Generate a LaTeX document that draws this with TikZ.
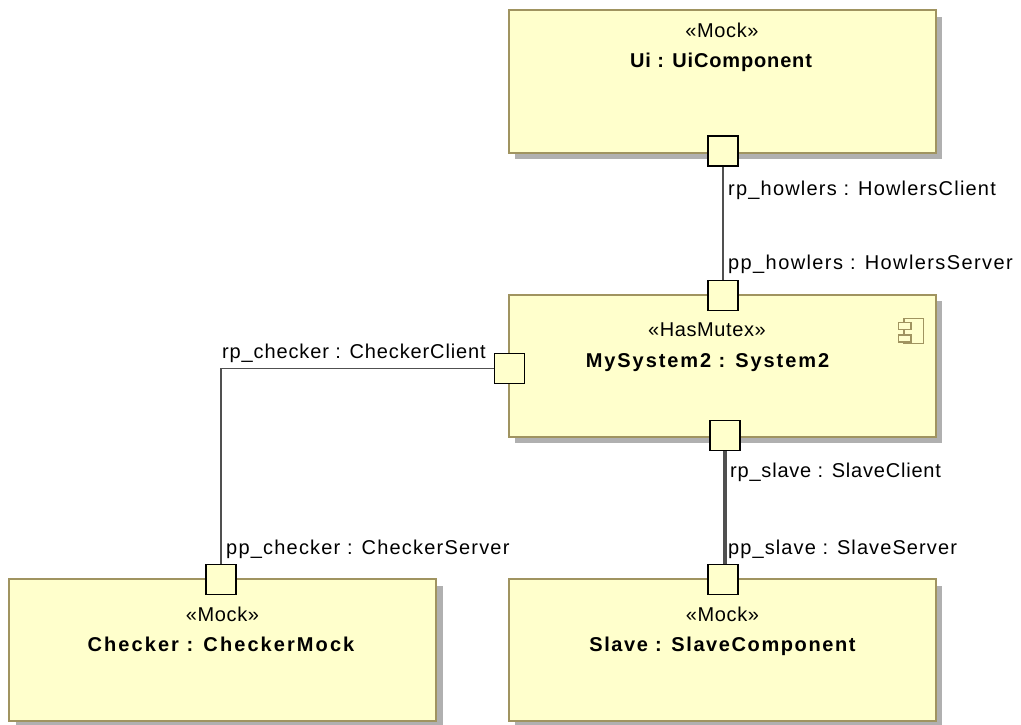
\documentclass[tikz,border=0pt]{standalone}
\usepackage{fontspec}
\setmainfont{Liberation Sans}
\usetikzlibrary{shadows}
\definecolor{boxfill}{RGB}{255,255,204}
\definecolor{boxline}{RGB}{160,148,96}
\definecolor{shade}{RGB}{176,176,176}
\definecolor{wire}{RGB}{80,80,80}
\tikzset{
  x=1pt,y=-1pt,
  part/.style={draw=boxline,line width=2pt,fill=boxfill,minimum width=427pt,minimum height=142pt,inner sep=0pt,anchor=north west,
    general shadow={fill=shade,shadow xshift=6.5pt,shadow yshift=-6.5pt}},
  port/.style={draw=black,line width=1.8pt,fill=boxfill,minimum size=30pt,inner sep=0pt,anchor=center},
  wirethin/.style={draw=wire,line width=1.7pt},
  wirethick/.style={draw=wire,line width=3.2pt},
  stereo/.style={font=\fontsize{20pt}{22pt}\selectfont\addfontfeature{LetterSpace=3},inner sep=0pt,anchor=base},
  title/.style={font=\fontsize{20pt}{22pt}\selectfont\bfseries\addfontfeature{LetterSpace=#1},inner sep=0pt,anchor=base},
  lab/.style={font=\fontsize{20pt}{22pt}\selectfont\addfontfeature{LetterSpace=#1},inner sep=0pt,anchor=base west},
}
\begin{document}
\begin{tikzpicture}
\useasboundingbox (0,0) rectangle (1021,725);
% parts
\node[part] (ui) at (507.5,9.5) {};
\node[part] (sys) at (507.5,293.5) {};
\node[part] (chk) at (8,578) {};
\node[part] (slv) at (507.5,578) {};
% ports
\node[port] (pui) at (723,151) {};
\node[port] (psystop) at (723,295.5) {};
\node[port] (psysleft) at (509.5,368.5) {};
\node[port] (psysbot) at (725,435.5) {};
\node[port] (pchk) at (221,579.5) {};
\node[port] (pslv) at (723,579.5) {};
% wires
\draw[wirethin] (pui.south) -- (psystop.north);
\draw[wirethin] (psysleft.west) -| (pchk.north);
\draw[wirethick] (psysbot.south) -- (psysbot.south |- pslv.north);
% texts
\node[stereo] (t1) at (722,38) {«Mock»};
\node[title=4.2] (t2) at (721,68) {Ui : UiComponent};
\node[stereo] (t3) at (707,336) {«HasMutex»};
\node[title=9.6] (t4) at (707.5,367) {MySystem2 : System2};
\node[stereo] (t5) at (222.5,621) {«Mock»};
\node[title=10.4] (t6) at (221,651) {Checker : CheckerMock};
\node[stereo] (t7) at (722.5,621) {«Mock»};
\node[title=8] (t8) at (722.5,651) {Slave : SlaveComponent};
\node[lab=6] (l1) at (728,195) {rp\_howlers : HowlersClient};
\node[lab=7] (l2) at (728,269) {pp\_howlers : HowlersServer};
\node[lab=4.4] (l3) at (222,358) {rp\_checker : CheckerClient};
\node[lab=6] (l4) at (226,554) {pp\_checker : CheckerServer};
\node[lab=4] (l5) at (730,477) {rp\_slave : SlaveClient};
\node[lab=5.5] (l6) at (728,554) {pp\_slave : SlaveServer};
% component icon
\draw[boxline,line width=1.6pt,fill=boxfill] (904,318.5) rectangle (923.5,343.5);
\draw[boxline,line width=1.6pt,fill=boxfill] (898.5,322.5) rectangle (911,329.5);
\draw[boxline,line width=1.6pt,fill=boxfill] (898.5,335) rectangle (911,342);
\end{tikzpicture}
\end{document}
